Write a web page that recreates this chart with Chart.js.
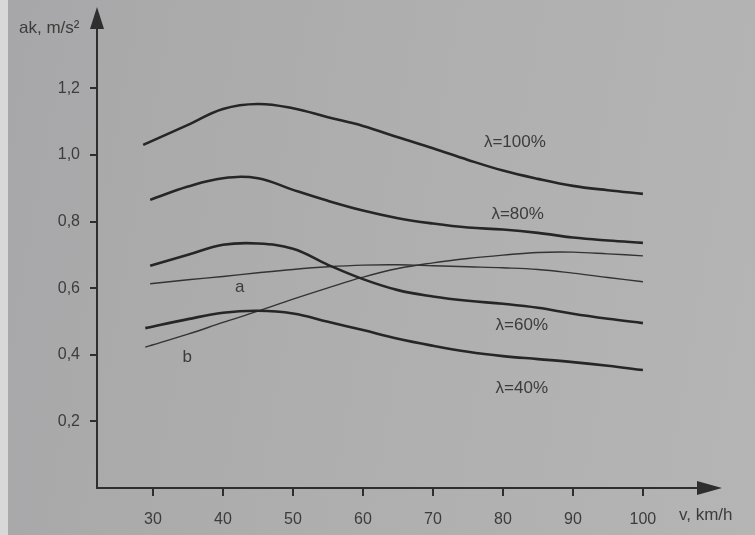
<!DOCTYPE html>
<html>
<head>
<meta charset="utf-8">
<script src="https://cdn.jsdelivr.net/npm/chart.js@4/dist/chart.umd.min.js"></script>
<style>
  html, body { margin: 0; padding: 0; background: #ababab; }
  #wrap { width: 755px; height: 535px; position: relative;
          background: linear-gradient(100deg, #a7a7a9 0%, #aeaeae 45%, #b5b5b5 100%); }
  #strip { position: absolute; left: 0; top: 0; width: 8px; height: 535px; background: #d8d8d8; }
</style>
</head>
<body>
<div id="wrap"><div id="strip"></div><canvas id="c" width="755" height="535"></canvas></div>
<script>
// ---- data ----
const speeds = [29, 35, 40, 45, 50, 55, 60, 65, 70, 75, 80, 85, 90, 95, 100];
const lambda100 = [1.03, 1.090, 1.138, 1.153, 1.140, 1.113, 1.087, 1.053, 1.020, 0.985, 0.953, 0.928, 0.907, 0.894, 0.883];
const lambda80  = [0.865, 0.905, 0.930, 0.930, 0.895, 0.862, 0.833, 0.810, 0.794, 0.782, 0.776, 0.766, 0.752, 0.743, 0.736];
const lambda60  = [0.667, 0.700, 0.730, 0.734, 0.718, 0.670, 0.627, 0.594, 0.575, 0.562, 0.553, 0.541, 0.523, 0.508, 0.495];
const lambda40  = [0.480, 0.507, 0.526, 0.532, 0.524, 0.499, 0.474, 0.448, 0.427, 0.409, 0.396, 0.387, 0.378, 0.367, 0.354];
const curveA    = [0.613, 0.625, 0.635, 0.646, 0.656, 0.664, 0.669, 0.670, 0.667, 0.664, 0.661, 0.656, 0.645, 0.632, 0.619];
const curveB    = [0.423, 0.462, 0.497, 0.531, 0.567, 0.601, 0.633, 0.659, 0.676, 0.689, 0.699, 0.707, 0.708, 0.703, 0.697];
const xTickValues = [30, 40, 50, 60, 70, 80, 90, 100];
const yTickValues = [0.2, 0.4, 0.6, 0.8, 1.0, 1.2];
const curveLabels = ['λ=100%', 'λ=80%', 'λ=60%', 'λ=40%', 'a', 'b'];
const labelX = [81.7, 82.1, 82.7, 82.7, 42.4, 34.9];
const labelY = [1.038, 0.822, 0.489, 0.300, 0.603, 0.393];
const yTitle = 'ak, m/s²';
const xTitle = 'v, km/h';

const INK = '#2e2e2e';
const TEXT = '#3c3c3c';
const FONT = '"Liberation Sans", Arial, sans-serif';

function pts(vals, firstX) {
  return vals.map((v, i) => ({ x: i === 0 && firstX !== undefined ? firstX : speeds[i], y: v }));
}

const thick = { borderColor: '#262626', borderWidth: 2.6, pointRadius: 0, fill: false, tension: 0.4 };
const thin = { borderColor: '#333333', borderWidth: 1.4, pointRadius: 0, fill: false, tension: 0.4 };

const decor = {
  id: 'decor',
  afterDraw(chart) {
    const { ctx, scales: { x, y } } = chart;
    const x0 = x.getPixelForValue(x.min);
    const y0 = y.getPixelForValue(0);
    const yTop = y.getPixelForValue(y.max);
    const xEnd = x.getPixelForValue(x.max);
    ctx.save();
    ctx.strokeStyle = INK; ctx.fillStyle = INK; ctx.lineWidth = 2;
    // axes
    ctx.beginPath();
    ctx.moveTo(x0, y0 + 1); ctx.lineTo(x0, yTop + 20);
    ctx.moveTo(x0 - 1, y0); ctx.lineTo(xEnd - 20, y0);
    ctx.stroke();
    // arrow heads
    ctx.beginPath();
    ctx.moveTo(x0, yTop + 2); ctx.lineTo(x0 - 7, yTop + 24); ctx.lineTo(x0 + 7, yTop + 24); ctx.closePath();
    ctx.fill();
    ctx.beginPath();
    ctx.moveTo(xEnd, y0); ctx.lineTo(xEnd - 25, y0 - 7); ctx.lineTo(xEnd - 25, y0 + 7); ctx.closePath();
    ctx.fill();
    // axis titles
    ctx.font = '17px ' + FONT;
    ctx.textBaseline = 'middle';
    ctx.textAlign = 'left';
    ctx.fillStyle = TEXT;
    ctx.fillText(yTitle, 19, 28);
    ctx.fillText(xTitle, 679, 515);
    // curve labels
    ctx.font = '17px ' + FONT;
    ctx.textAlign = 'center';
    curveLabels.forEach((t, i) => {
      ctx.fillText(t, x.getPixelForValue(labelX[i]), y.getPixelForValue(labelY[i]));
    });
    ctx.restore();
  }
};

new Chart(document.getElementById('c'), {
  type: 'line',
  data: {
    datasets: [
      { ...thick, label: 'λ=100%', data: pts(lambda100, 28.6) },
      { ...thick, label: 'λ=80%', data: pts(lambda80, 29.6) },
      { ...thick, label: 'λ=60%', data: pts(lambda60, 29.6) },
      { ...thick, label: 'λ=40%', data: pts(lambda40, 28.9) },
      { ...thin, label: 'a', data: pts(curveA, 29.6) },
      { ...thin, label: 'b', data: pts(curveB, 28.9) }
    ]
  },
  options: {
    responsive: false,
    animation: false,
    layout: { padding: { top: 5, right: 33, left: 0, bottom: 0 } },
    plugins: { legend: { display: false }, tooltip: { enabled: false } },
    scales: {
      x: {
        type: 'linear', min: 22, max: 111.3,
        afterBuildTicks: s => { s.ticks = xTickValues.map(v => ({ value: v })); },
        afterFit: s => { s.height = 47; s.paddingLeft = 0; s.paddingRight = 0; },
        grid: { drawOnChartArea: false, drawTicks: true, tickLength: 8, color: INK, lineWidth: 2 },
        border: { display: false },
        ticks: { color: TEXT, font: { family: FONT, size: 16 }, padding: 14,
                 maxRotation: 0, callback: v => String(v) }
      },
      y: {
        type: 'linear', min: 0, max: 1.45,
        afterBuildTicks: s => { s.ticks = yTickValues.map(v => ({ value: v })); },
        afterFit: s => { s.width = 97; s.paddingTop = 0; s.paddingBottom = 0; },
        grid: { drawOnChartArea: false, drawTicks: true, tickLength: 7, color: INK, lineWidth: 2 },
        border: { display: false },
        ticks: { color: TEXT, font: { family: FONT, size: 16 }, padding: 10,
                 callback: v => v.toFixed(1).replace('.', ',') }
      }
    }
  },
  plugins: [decor]
});
</script>
</body>
</html>
